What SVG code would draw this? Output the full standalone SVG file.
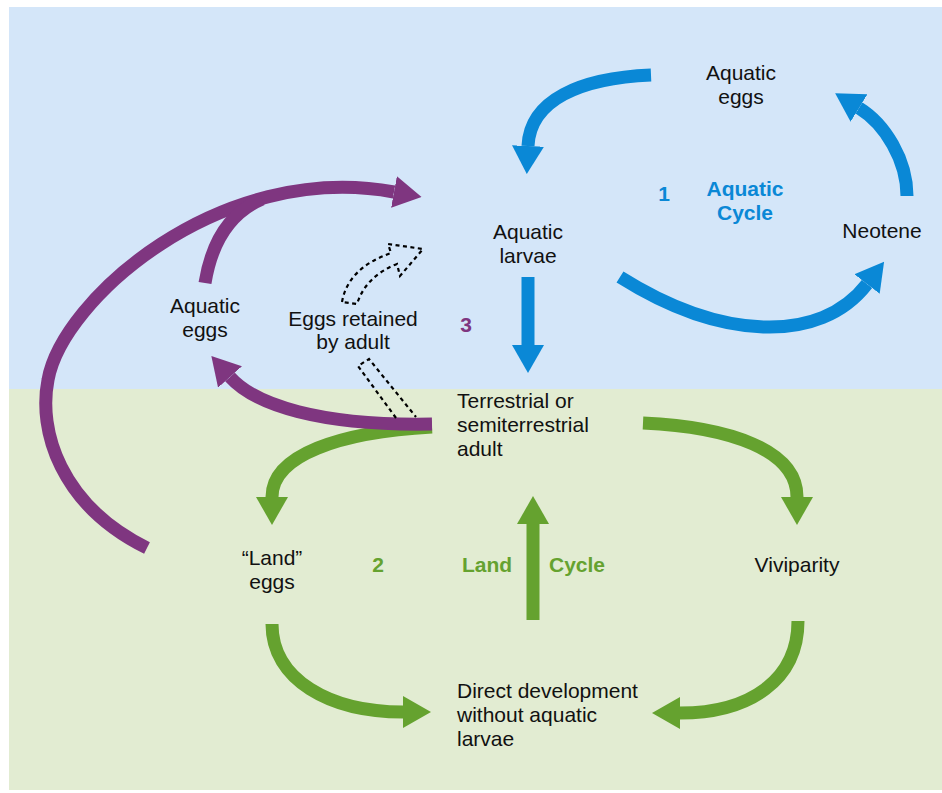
<svg xmlns="http://www.w3.org/2000/svg" width="942" height="793" viewBox="0 0 942 793">
<style>
text{font-family:"Liberation Sans",Arial,sans-serif;font-size:21px;fill:#111}
.c{text-anchor:middle}
.b{font-weight:bold}
.tb{fill:#0a88d6}
.tg{fill:#65a22f}
.tp{fill:#7f3680}
.arr{fill:none;stroke-width:13;stroke-linecap:butt}
.blue{stroke:#0a88d6}
.green{stroke:#65a22f}
.purple{stroke:#7f3680}
.dash{fill:none;stroke:#000;stroke-width:2.2;stroke-dasharray:4 3.5}
</style>
<defs>
<marker id="hb" viewBox="0 0 28 32" refX="0" refY="16" markerWidth="28" markerHeight="32" markerUnits="userSpaceOnUse" orient="auto"><path d="M0,0 L28,16 L0,32 Z" fill="#0a88d6"/></marker>
<marker id="hg" viewBox="0 0 28 32" refX="0" refY="16" markerWidth="28" markerHeight="32" markerUnits="userSpaceOnUse" orient="auto"><path d="M0,0 L28,16 L0,32 Z" fill="#65a22f"/></marker>
<marker id="hp" viewBox="0 0 28 32" refX="0" refY="16" markerWidth="28" markerHeight="32" markerUnits="userSpaceOnUse" orient="auto"><path d="M0,0 L28,16 L0,32 Z" fill="#7f3680"/></marker>
</defs>
<rect id="water" x="9" y="7" width="933" height="383" fill="#d4e6f9"/>
<rect id="land" x="9" y="389" width="933" height="401" fill="#e2ecd2"/>
<g id="connectors">
<path class="arr blue" d="M651,75 C580,78 530,100 528,146" marker-end="url(#hb)"/>
<path class="arr blue" d="M907,196 C907,160 885,124 859,108" marker-end="url(#hb)"/>
<path class="arr blue" d="M620,277 C720,340 820,345 867,284" marker-end="url(#hb)"/>
<path class="arr blue" d="M528,277 L528,345" marker-end="url(#hb)"/>
<path class="arr green" d="M432,427 C340,432 272,455 272,497" marker-end="url(#hg)"/>
<path class="arr green" d="M643,423 C730,427 797,450 797,497" marker-end="url(#hg)"/>
<path class="arr green" d="M272,624 C272,680 330,712 403,712" marker-end="url(#hg)"/>
<path class="arr green" d="M798,621 C798,680 750,713 680,713" marker-end="url(#hg)"/>
<path class="arr green" d="M533,620 L533,524" marker-end="url(#hg)"/>
<path class="arr purple" d="M432,424 C320,426 255,405 230,377" marker-end="url(#hp)"/>
<path class="arr purple" d="M147,548 C60,505 38,430 48,380 C62,300 220,160 394,192" marker-end="url(#hp)"/>
<path class="arr purple" d="M205,283 C212,240 232,212 262,199"/>
<path class="dash" d="M342,302 Q348,268 391,253 L388,244 L423,249 L400,276 L397,264 Q366,276 357,304 Z"/>
<path class="dash" d="M396,418 L358,366 L369,359 L416,417"/>
</g>
<g id="node-aquatic-eggs-top"><text class="c" x="741" y="80">Aquatic</text><text class="c" x="741" y="104">eggs</text></g>
<g id="label-1"><text class="b tb c" x="664" y="201">1</text></g>
<g id="label-aquatic-cycle"><text class="b tb c" x="745" y="196">Aquatic</text><text class="b tb c" x="745" y="220">Cycle</text></g>
<g id="node-neotene"><text class="c" x="882" y="238">Neotene</text></g>
<g id="node-aquatic-larvae"><text class="c" x="528" y="239">Aquatic</text><text class="c" x="528" y="263">larvae</text></g>
<g id="node-aquatic-eggs-left"><text class="c" x="205" y="313">Aquatic</text><text class="c" x="205" y="337">eggs</text></g>
<g id="node-eggs-retained"><text class="c" x="353" y="326">Eggs retained</text><text class="c" x="353" y="349">by adult</text></g>
<g id="label-3"><text class="b tp c" x="466" y="332">3</text></g>
<g id="node-adult"><text x="457" y="408">Terrestrial or</text><text x="457" y="432">semiterrestrial</text><text x="457" y="456">adult</text></g>
<g id="node-land-eggs"><text class="c" x="272" y="565">“Land”</text><text class="c" x="272" y="589">eggs</text></g>
<g id="label-2"><text class="b tg c" x="378" y="572">2</text></g>
<g id="label-land-cycle"><text class="b tg c" x="487" y="572">Land</text><text class="b tg c" x="577" y="572">Cycle</text></g>
<g id="node-viviparity"><text class="c" x="797" y="572">Viviparity</text></g>
<g id="node-direct"><text x="457" y="698">Direct development</text><text x="457" y="722">without aquatic</text><text x="457" y="746">larvae</text></g>
</svg>
